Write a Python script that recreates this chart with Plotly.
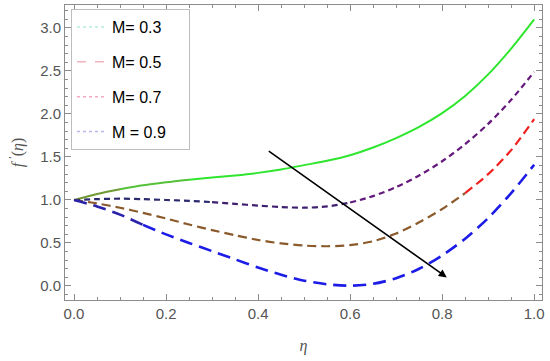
import plotly.graph_objects as go

eta = [0.00, 0.05, 0.10, 0.15, 0.20, 0.25, 0.30, 0.35, 0.40, 0.45, 0.50,
       0.55, 0.60, 0.65, 0.70, 0.75, 0.80, 0.85, 0.90, 0.95, 1.00]

f_m03 = [1.00, 1.07, 1.125, 1.17, 1.205, 1.235, 1.26, 1.285, 1.315, 1.355, 1.405,
         1.455, 1.52, 1.61, 1.72, 1.85, 2.01, 2.21, 2.46, 2.76, 3.10]
f_m05 = [1.00, 1.01, 1.015, 1.01, 1.00, 0.99, 0.975, 0.955, 0.935, 0.918, 0.91,
         0.925, 0.97, 1.045, 1.15, 1.285, 1.45, 1.65, 1.885, 2.165, 2.49]
f_m07 = [1.00, 0.96, 0.91, 0.85, 0.785, 0.715, 0.65, 0.59, 0.535, 0.495, 0.47,
         0.462, 0.475, 0.52, 0.61, 0.74, 0.895, 1.08, 1.30, 1.58, 1.94]
f_m09 = [1.00, 0.925, 0.83, 0.71, 0.60, 0.50, 0.405, 0.31, 0.215, 0.13, 0.062,
         0.02, 0.003, 0.025, 0.09, 0.20, 0.355, 0.55, 0.79, 1.08, 1.41]

legend_labels = ["M= 0.3", "M= 0.5", "M= 0.7", "M = 0.9"]
x_ticks = [0.0, 0.2, 0.4, 0.6, 0.8, 1.0]
y_ticks = [0.0, 0.5, 1.0, 1.5, 2.0, 2.5, 3.0]

# (series, [(start_idx, end_idx, color)], dash, width)
curves = [
    (f_m03, [(0, 2, "#6f9a33"), (2, 5, "#55c23a"), (5, 20, "#2fe62f")], "solid", 2),
    (f_m05, [(0, 6, "#2c2a6e"), (6, 12, "#3f1f70"), (12, 20, "#641a7c")], "6px,4px", 2.2),
    (f_m07, [(0, 17, "#8b5a2b"), (17, 20, "#ee2222")], "9px,5px", 2.2),
    (f_m09, [(0, 3, "#2a22aa"), (3, 20, "#1c1ce6")], "13px,7px", 2.6),
]

fig = go.Figure()
for ys, segs, dash, w in curves:
    for a, b, col in segs:
        fig.add_trace(go.Scatter(
            x=eta[a:b + 1], y=ys[a:b + 1], mode="lines",
            line=dict(color=col, width=w, dash=dash, shape="spline", smoothing=0.8),
            showlegend=False, hoverinfo="skip"))

legend_styles = [("#b4eedc", "dot"), ("#f2b4bc", "dash"), ("#f2aac6", "dot"), ("#b8b8ea", "dot")]
for i, (lab, (col, d)) in enumerate(zip(legend_labels, legend_styles)):
    fig.add_trace(go.Scatter(
        x=[None], y=[None], mode="lines", name=lab + "\u00a0" * 4, legendgroup=f"g{i}",
        line=dict(color=col, width=1.5, dash=d)))

fig.add_annotation(
    x=0.81, y=0.10, ax=0.42, ay=1.58, xref="x", yref="y", axref="x", ayref="y",
    showarrow=True, arrowhead=2, arrowsize=1, arrowwidth=1.6, arrowcolor="black", text="")

axis_common = dict(
    showline=True, linecolor="#8c8c8c", linewidth=1, mirror="allticks",
    ticks="inside", ticklen=6, tickcolor="#8c8c8c", tickwidth=1,
    showgrid=False, zeroline=False, automargin=False,
    tickfont=dict(family="Liberation Sans, Arial", size=15, color="#555555"),
)

fig.update_xaxes(
    range=[-0.0196, 1.017], tickvals=x_ticks, ticktext=[f"{v:.1f}" for v in x_ticks],
    minor=dict(dtick=0.05, tick0=0, ticklen=3, tickcolor="#8c8c8c", ticks="inside"),
    title=dict(text="<i>η</i>", font=dict(family="Liberation Serif, DejaVu Serif", size=16, color="#555555"), standoff=18),
    **axis_common)
fig.update_yaxes(
    range=[-0.163, 3.267], tickvals=y_ticks, ticktext=[f"{v:.1f}" for v in y_ticks],
    minor=dict(dtick=0.1, tick0=0, ticklen=3, tickcolor="#8c8c8c", ticks="inside"),
    title=dict(text="<i>f</i> <sup>′</sup>(<i>η</i>)", font=dict(family="Liberation Serif, DejaVu Serif", size=16, color="#555555"), standoff=12),
    **axis_common)

fig.update_layout(
    width=550, height=361,
    margin=dict(l=65, r=8, t=5, b=61),
    plot_bgcolor="white", paper_bgcolor="white",
    legend=dict(
        x=0.0126, y=0.986, xanchor="left", yanchor="top",
        bgcolor="white", bordercolor="#bdbdbd", borderwidth=1,
        font=dict(family="Liberation Sans, Arial", size=16, color="black"),
        tracegroupgap=11, itemwidth=30,
    ),
)

fig.write_html("out.html", config={"displayModeBar": False},
               post_script="document.body.style.margin='0';")
